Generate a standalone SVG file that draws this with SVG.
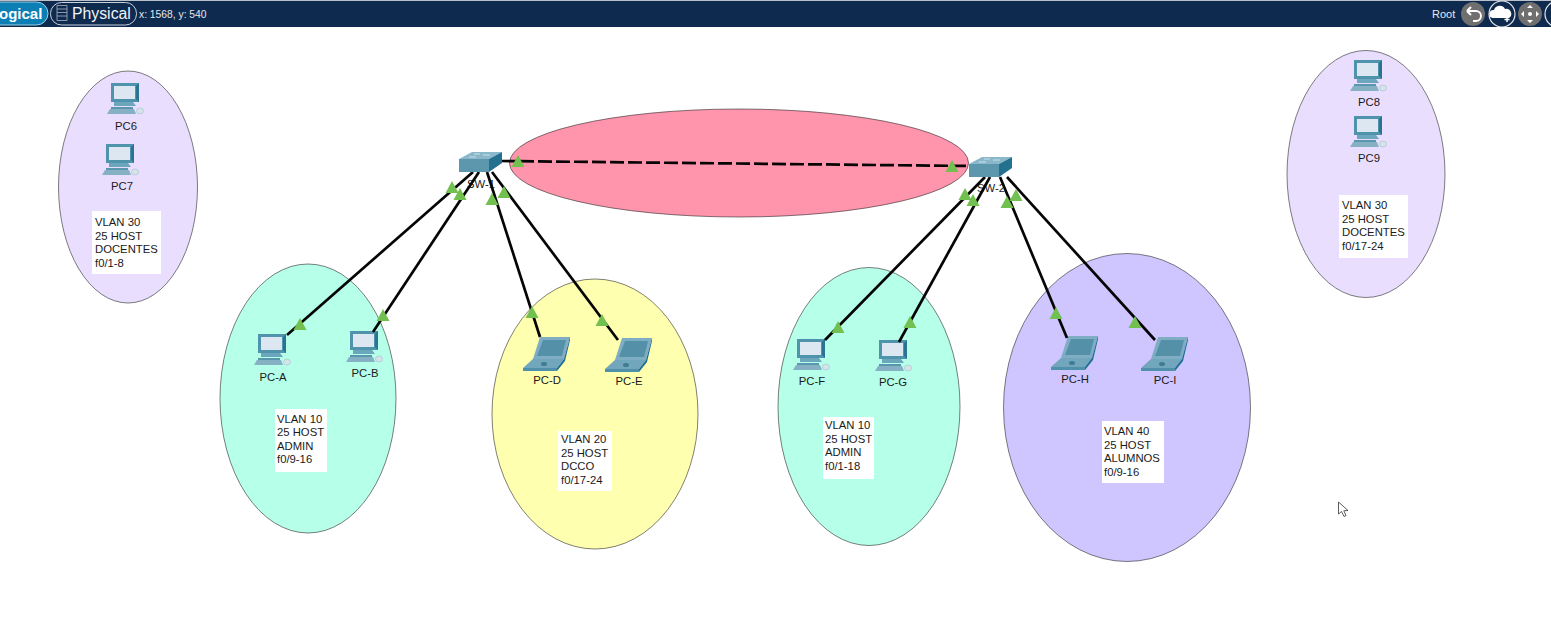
<svg xmlns="http://www.w3.org/2000/svg" width="1551" height="631" viewBox="0 0 1551 631">
<style>
text{font-family:"Liberation Sans",Arial,sans-serif;fill:#1a1a1a}
.lbl{font-size:11.300px;text-anchor:middle}
.note{font-size:11.300px}
.zone{stroke:#2a2a2a;stroke-width:.6}
.box{fill:#fff}
.link{stroke:#050505;stroke-width:2.700;fill:none;stroke-linecap:butt}
.dash{stroke-dasharray:14 4}
.tri{fill:#72c04f}
.bar{font-size:15px;font-weight:bold;fill:#fff}
</style>
<defs>
<symbol id="pc" overflow="visible" viewBox="0 0 1 1" width="1" height="1">
<path d="M-13-16H15V3H-13Z" fill="#4f93ac"/>
<path d="M15-16l-3 3V0l3 3Z" fill="#2a7391"/>
<path d="M-10-13H11V0H-10Z" fill="#dce7f2"/>
<path d="M-10 3H9L12 7H-10Z" fill="#6ba6bc"/>
<path d="M-14 10H10L12 15H-17Z" fill="#86b1c4"/>
<path d="M-13 8H9V10H-13Z" fill="#5a97af"/>
<ellipse cx="16" cy="12" rx="3.500" ry="3" fill="#d6e4ea" stroke="#a3bfcb" stroke-width=".6"/>
</symbol>
<symbol id="laptop" overflow="visible" viewBox="0 0 1 1" width="1" height="1">
<path d="M-7-16H23L17 6H-14Z" fill="#7fadc3"/>
<path d="M-4-13H19L15 3H-10Z" fill="#5590a9"/>
<path d="M-14 6H17L10 15H-24Z" fill="#72a6bd"/>
<path d="M-24 15H10V18H-24Z" fill="#5190aa"/>
<path d="M10 15L17 6 23-16V-13L18 8 10 18Z" fill="#1f6e93"/>
<ellipse cx="-3" cy="11" rx="3" ry="2" fill="#3f7b93"/>
</symbol>
<symbol id="switch" overflow="visible" viewBox="0 0 1 1" width="1" height="1">
<path d="M0 7L13 0H43L30 7Z" fill="#8ab8ca"/>
<path d="M0 7H30V20H0Z" fill="#5d97ae"/>
<path d="M30 7L43 0V11L30 20Z" fill="#24708f"/>
<path d="M10 5H17M24 3H31M15 2H21" stroke="#d8ebf2" stroke-width=".8"/>
</symbol>
<path id="t" class="tri" d="M0-7L6.500 5H-6.500Z"/>
</defs>

<rect width="1551" height="631" fill="#fff"/>

<g id="toolbar">
<rect y="0" width="1551" height="27" fill="#0f2a4f"/>
<rect y="0" width="1551" height="1" fill="#b9c0c9"/>
<rect x="-30" y="2" width="78" height="23" rx="11.500" fill="#0b7eb4" stroke="#9fd0e6"/>
<text class="bar" x="-1" y="19">ogical</text>
<rect x="50.500" y="2.500" width="86" height="22.500" rx="11" fill="#0f2a4f" stroke="#c8d0da"/>
<path d="M57 5.500H67V20.500H57ZM57 9H67M57 12.500H67M57 16H67" fill="none" stroke="#aab4c2" stroke-width=".8"/>
<text x="72" y="19" font-size="15.800" style="fill:#f2f4f7">Physical</text>
<text x="139" y="18" font-size="10.300" style="fill:#e4e8ee">x: 1568, y: 540</text>
<text x="1432" y="18" font-size="11" style="fill:#e4e8ee">Root</text>
<circle cx="1473" cy="14" r="12" fill="#6f6f6f"/>
<path d="M1467 11h9a5 5 0 0 1 0 10h-3M1467 11l4-4M1467 11l4 4" stroke="#fff" stroke-width="2" fill="none"/>
<circle cx="1502" cy="14" r="13" fill="#0f2a4f" stroke="#e8e8e8" stroke-width="1.200"/>
<path d="M1493 18a4 4 0 0 1 1-8a6 6 0 0 1 11-1a5 5 0 0 1 4 9Z" fill="#fff"/>
<path d="M1507 17v5M1504.500 19.500h5" stroke="#fff" stroke-width="1.500"/>
<circle cx="1530" cy="14" r="12" fill="#6f6f6f"/>
<path d="M1530 5l3 3h-6ZM1530 23l3-3h-6ZM1521 14l3-3v6ZM1539 14l-3-3v6Z" fill="#fff"/>
<circle cx="1530" cy="14" r="2" fill="#fff"/>
<circle cx="1558" cy="14" r="13" fill="#0f2a4f" stroke="#e8e8e8" stroke-width="1.200"/>
</g>

<g id="zones">
<ellipse class="zone" cx="128" cy="187" rx="69.500" ry="116" fill="#eadeff"/>
<ellipse class="zone" cx="1366" cy="174" rx="79" ry="123.500" fill="#eadeff"/>
<ellipse class="zone" cx="308" cy="398.500" rx="88" ry="134.500" fill="#b6ffe9"/>
<ellipse class="zone" cx="595" cy="414" rx="103" ry="135" fill="#ffffb0"/>
<ellipse class="zone" cx="869" cy="406.500" rx="91" ry="139" fill="#b6ffe9"/>
<ellipse class="zone" cx="1127" cy="407.500" rx="123.500" ry="154" fill="#cfc5ff"/>
<ellipse class="zone" cx="739" cy="163" rx="229.500" ry="54" fill="#ff94ad"/>
</g>

<g id="notes">
<g id="note-vlan30-left"><rect class="box" x="92" y="211" width="69" height="63"/><text class="note" x="95" y="226">VLAN 30<tspan x="95" dy="13.500">25 HOST</tspan><tspan x="95" dy="13.500">DOCENTES</tspan><tspan x="95" dy="13.500">f0/1-8</tspan></text></g>
<g id="note-vlan10-a"><rect class="box" x="275" y="409" width="52" height="63"/><text class="note" x="277" y="422.500">VLAN 10<tspan x="277" dy="13.500">25 HOST</tspan><tspan x="277" dy="13.500">ADMIN</tspan><tspan x="277" dy="13.500">f0/9-16</tspan></text></g>
<g id="note-vlan20"><rect class="box" x="558" y="431" width="54" height="60"/><text class="note" x="561" y="443">VLAN 20<tspan x="561" dy="13.500">25 HOST</tspan><tspan x="561" dy="13.500">DCCO</tspan><tspan x="561" dy="13.500">f0/17-24</tspan></text></g>
<g id="note-vlan10-b"><rect class="box" x="823" y="417" width="51" height="62"/><text class="note" x="825" y="429">VLAN 10<tspan x="825" dy="13.500">25 HOST</tspan><tspan x="825" dy="13.500">ADMIN</tspan><tspan x="825" dy="13.500">f0/1-18</tspan></text></g>
<g id="note-vlan40"><rect class="box" x="1102" y="421" width="62" height="62"/><text class="note" x="1104" y="435">VLAN 40<tspan x="1104" dy="13.500">25 HOST</tspan><tspan x="1104" dy="13.500">ALUMNOS</tspan><tspan x="1104" dy="13.500">f0/9-16</tspan></text></g>
<g id="note-vlan30-right"><rect class="box" x="1339" y="195" width="69" height="63"/><text class="note" x="1342" y="209">VLAN 30<tspan x="1342" dy="13.500">25 HOST</tspan><tspan x="1342" dy="13.500">DOCENTES</tspan><tspan x="1342" dy="13.500">f0/17-24</tspan></text></g>
</g>

<g id="PC6"><use href="#pc" x="124" y="99"/><text class="lbl" x="126" y="130">PC6</text></g>
<g id="PC7"><use href="#pc" x="119" y="160"/><text class="lbl" x="122" y="190">PC7</text></g>
<g id="PC8"><use href="#pc" x="1367" y="76"/><text class="lbl" x="1369" y="106">PC8</text></g>
<g id="PC9"><use href="#pc" x="1367" y="132"/><text class="lbl" x="1369" y="162">PC9</text></g>
<g id="PC-A"><use href="#pc" x="271" y="350"/><text class="lbl" x="273" y="381">PC-A</text></g>
<g id="PC-B"><use href="#pc" x="363" y="347"/><text class="lbl" x="365" y="377">PC-B</text></g>
<g id="PC-F"><use href="#pc" x="810" y="355"/><text class="lbl" x="812" y="385">PC-F</text></g>
<g id="PC-G"><use href="#pc" x="892" y="356"/><text class="lbl" x="893" y="386">PC-G</text></g>
<g id="PC-D"><use href="#laptop" x="547" y="353"/><text class="lbl" x="547" y="384">PC-D</text></g>
<g id="PC-E"><use href="#laptop" x="629" y="354"/><text class="lbl" x="629" y="385">PC-E</text></g>
<g id="PC-H"><use href="#laptop" x="1075" y="352"/><text class="lbl" x="1075" y="383">PC-H</text></g>
<g id="PC-I"><use href="#laptop" x="1165" y="353"/><text class="lbl" x="1165" y="384">PC-I</text></g>
<g id="SW-1"><text class="lbl" x="481" y="188">SW-1</text></g>
<g id="SW-2"><text class="lbl" x="991" y="192">SW-2</text></g>

<g id="connectors">
<line class="link dash" x1="502" y1="161" x2="969" y2="166"/>
<line class="link" x1="473" y1="172" x2="287" y2="335"/>
<line class="link" x1="479" y1="172" x2="373" y2="332"/>
<line class="link" x1="487" y1="172" x2="540" y2="337"/>
<line class="link" x1="492" y1="172" x2="618" y2="340"/>
<line class="link" x1="985" y1="177" x2="825" y2="340"/>
<line class="link" x1="990" y1="177" x2="899" y2="342"/>
<line class="link" x1="1000" y1="177" x2="1067" y2="338"/>
<line class="link" x1="1007" y1="177" x2="1155" y2="340"/>
</g>

<g id="switch-icons"><use href="#switch" x="459" y="152"/><use href="#switch" x="969" y="157"/></g>

<g id="link-lights">
<use href="#t" x="452" y="188"/><use href="#t" x="460" y="195"/><use href="#t" x="492" y="200"/><use href="#t" x="504" y="193"/><use href="#t" x="518" y="162"/>
<use href="#t" x="300" y="325"/><use href="#t" x="383" y="316"/><use href="#t" x="532" y="313"/><use href="#t" x="602" y="321"/>
<use href="#t" x="952" y="167"/><use href="#t" x="965" y="195"/><use href="#t" x="973" y="201"/><use href="#t" x="1007" y="203"/><use href="#t" x="1016" y="196"/>
<use href="#t" x="838" y="328"/><use href="#t" x="910" y="323"/><use href="#t" x="1056" y="314"/><use href="#t" x="1135" y="323"/>
</g>

<path id="cursor" d="M1338.500 502V514L1341.500 511.500L1344 516.500L1346 515.500L1343.800 510.800L1348 510.500Z" fill="#fff" stroke="#333" stroke-width=".8"/>
</svg>
